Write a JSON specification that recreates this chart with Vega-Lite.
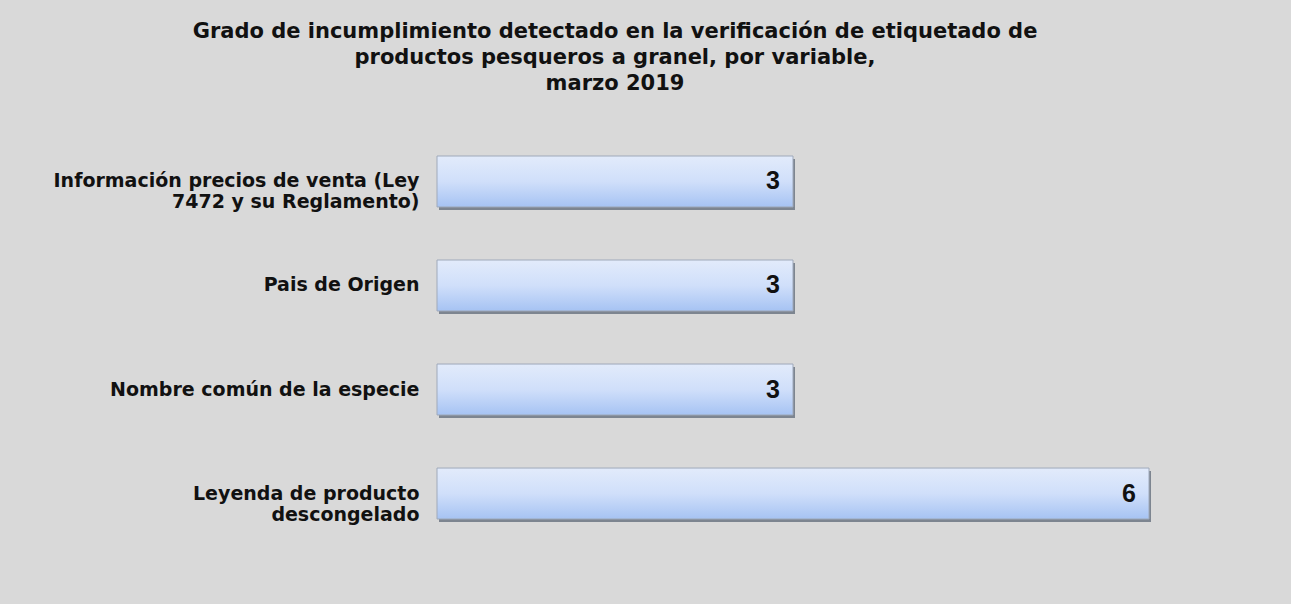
{
  "$schema": "https://vega.github.io/schema/vega-lite/v6.json",
  "width": 1291,
  "height": 604,
  "autosize": {"type": "fit", "contains": "padding"},
  "background": "#d9d9d9",
  "padding": {"left": 53, "top": 21, "right": 140, "bottom": 59},
  "title": {
    "text": ["Grado de incumplimiento detectado en la verificación de etiquetado de", "productos pesqueros a  granel, por variable,", "marzo 2019"],
    "font": "DejaVu Sans",
    "fontSize": 21,
    "fontWeight": "bold",
    "color": "#111111",
    "lineHeight": 26,
    "anchor": "middle",
    "frame": "bounds",
    "dx": 13,
    "offset": 36
  },
  "data": {
    "values": [
      {"variable": "Información precios de venta (Ley|7472 y su Reglamento)", "valor": 3},
      {"variable": "Pais de Origen", "valor": 3},
      {"variable": "Nombre común de la especie", "valor": 3},
      {"variable": "Leyenda de producto|descongelado", "valor": 6}
    ]
  },
  "encoding": {
    "y": {
      "field": "variable",
      "type": "nominal",
      "sort": null,
      "scale": {"paddingInner": 0.51, "paddingOuter": 0.25},
      "axis": {
        "title": null,
        "domain": false,
        "ticks": false,
        "labelExpr": "split(datum.value, '|')",
        "labelFont": "DejaVu Sans",
        "labelFontSize": 19,
        "labelFontWeight": "bold",
        "labelColor": "#111111",
        "labelPadding": 18,
        "labelLineHeight": 21,
        "labelLimit": 500
      }
    },
    "x": {
      "field": "valor",
      "type": "quantitative",
      "scale": {"domain": [0, 6]},
      "axis": null
    }
  },
  "layer": [
    {
      "mark": {"type": "bar", "color": "#7d8590", "xOffset": 2, "yOffset": 3}
    },
    {
      "mark": {
        "type": "bar",
        "stroke": "#9fa9ba",
        "strokeWidth": 1,
        "color": {
          "gradient": "linear",
          "x1": 0, "y1": 0, "x2": 0, "y2": 1,
          "stops": [
            {"offset": 0, "color": "#e2ebfb"},
            {"offset": 0.5, "color": "#d0dffa"},
            {"offset": 1, "color": "#a6c3f3"}
          ]
        }
      }
    },
    {
      "mark": {
        "type": "text",
        "align": "right",
        "baseline": "middle",
        "dx": -13,
        "font": "Liberation Sans",
        "fontSize": 25,
        "fontWeight": "bold",
        "color": "#111111"
      },
      "encoding": {"text": {"field": "valor", "type": "quantitative"}}
    }
  ],
  "config": {"view": {"stroke": null}}
}
